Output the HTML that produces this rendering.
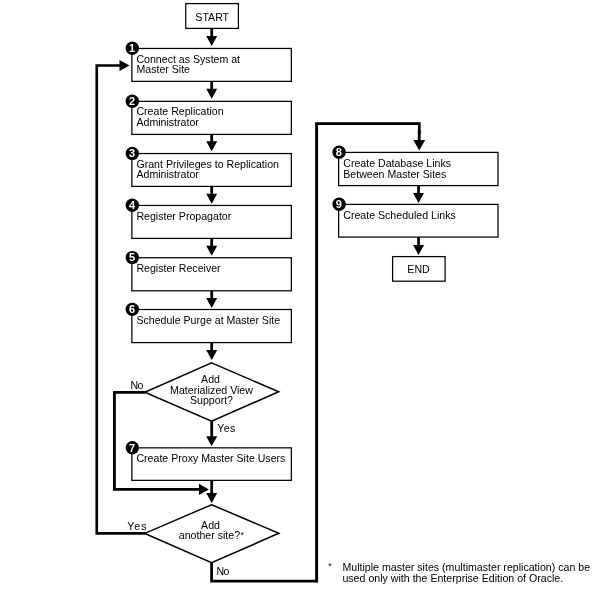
<!DOCTYPE html>
<html><head><meta charset="utf-8"><title>Flowchart</title>
<style>html,body{margin:0;padding:0;background:#fff;}body{width:600px;height:600px;overflow:hidden;font-family:"Liberation Sans",sans-serif;}svg{display:block;will-change:transform;}</style>
</head><body>
<svg width="600" height="600" viewBox="0 0 600 600">
<rect width="600" height="600" fill="#fff"/>
<g fill="none" stroke="#000" stroke-width="1.25">
<rect x="185.75" y="3.6" width="52.65" height="24.8"/>
<rect x="392.6" y="256.6" width="52.5" height="24.6"/>
<rect x="131.85" y="48.45" width="159.50" height="32.90"/>
<rect x="131.85" y="101.35" width="159.50" height="33.05"/>
<rect x="131.85" y="153.55" width="159.50" height="32.85"/>
<rect x="131.85" y="205.45" width="159.50" height="32.95"/>
<rect x="131.85" y="257.75" width="159.50" height="33.05"/>
<rect x="131.85" y="309.5" width="159.50" height="33.10"/>
<rect x="131.85" y="447.85" width="159.50" height="32.50"/>
<rect x="338.65" y="152.4" width="159.35" height="33.20"/>
<rect x="338.65" y="204.4" width="159.35" height="32.70"/>
<polygon points="211.6,362.9 278.7,391.7 211.6,421.2 144.8,392.2" stroke-width="1.5"/>
<polygon points="211.6,504.7 278.8,533.3 211.6,562.8 144.8,533.4" stroke-width="1.5"/>
</g>
<g fill="none" stroke="#000" stroke-width="2.75" stroke-linejoin="miter">
<path d="M211.7 28.4V37.1"/>
<path d="M206.20 36.10H217.20L211.7 46.1Z" fill="#000" stroke="none"/>
<path d="M211.7 81.3V89.7"/>
<path d="M206.20 88.70H217.20L211.7 98.7Z" fill="#000" stroke="none"/>
<path d="M211.7 134.4V142.3"/>
<path d="M206.20 141.30H217.20L211.7 151.3Z" fill="#000" stroke="none"/>
<path d="M211.7 186.4V194.7"/>
<path d="M206.20 193.70H217.20L211.7 203.7Z" fill="#000" stroke="none"/>
<path d="M211.7 238.4V246.7"/>
<path d="M206.20 245.70H217.20L211.7 255.7Z" fill="#000" stroke="none"/>
<path d="M211.7 290.8V298.9"/>
<path d="M206.20 297.90H217.20L211.7 307.9Z" fill="#000" stroke="none"/>
<path d="M211.7 342.6V351.0"/>
<path d="M206.20 350.00H217.20L211.7 360.0Z" fill="#000" stroke="none"/>
<path d="M211.7 421V437.2"/>
<path d="M206.20 436.20H217.20L211.7 446.2Z" fill="#000" stroke="none"/>
<path d="M211.7 480.4V494"/>
<path d="M206.20 493.00H217.20L211.7 503Z" fill="#000" stroke="none"/>
<path d="M419.2 130V141.1"/>
<path d="M413.30 140.10H425.10L419.2 150.5Z" fill="#000" stroke="none"/>
<path d="M418.55 185.6V194.0"/>
<path d="M413.05 193.00H424.05L418.55 203.0Z" fill="#000" stroke="none"/>
<path d="M418.55 237.1V246.0"/>
<path d="M413.05 245.00H424.05L418.55 255.0Z" fill="#000" stroke="none"/>
<path d="M145.5 392.3H114.4V489.4H200" stroke-width="2.85"/>
<path d="M199 483.8V495L208.8 489.4Z" fill="#000" stroke="none"/>
<path d="M145.5 533.3H96.75V65.5H120.5" stroke-width="2.65"/>
<path d="M119.5 59.9V71.1L129.5 65.5Z" fill="#000" stroke="none"/>
<path d="M211.6 562.5V581.1H316.6"/>
<path d="M316.6 582.45V123.55" stroke-width="2.95"/>
<path d="M315.15 123.55H419.3V135" stroke-width="2.7"/>
</g>
<g>
<circle cx="132.30" cy="48.30" r="6.7" fill="#000"/>
<text x="132.05" y="52.15" text-anchor="middle" font-family="Liberation Sans, sans-serif" font-weight="bold" font-size="11" fill="#fff">1</text>
<circle cx="132.30" cy="101.20" r="6.7" fill="#000"/>
<text x="132.05" y="105.05" text-anchor="middle" font-family="Liberation Sans, sans-serif" font-weight="bold" font-size="11" fill="#fff">2</text>
<circle cx="132.30" cy="153.40" r="6.7" fill="#000"/>
<text x="132.05" y="157.25" text-anchor="middle" font-family="Liberation Sans, sans-serif" font-weight="bold" font-size="11" fill="#fff">3</text>
<circle cx="132.30" cy="205.30" r="6.7" fill="#000"/>
<text x="132.05" y="209.15" text-anchor="middle" font-family="Liberation Sans, sans-serif" font-weight="bold" font-size="11" fill="#fff">4</text>
<circle cx="132.30" cy="257.60" r="6.7" fill="#000"/>
<text x="132.05" y="261.45" text-anchor="middle" font-family="Liberation Sans, sans-serif" font-weight="bold" font-size="11" fill="#fff">5</text>
<circle cx="132.30" cy="309.35" r="6.7" fill="#000"/>
<text x="132.05" y="313.20" text-anchor="middle" font-family="Liberation Sans, sans-serif" font-weight="bold" font-size="11" fill="#fff">6</text>
<circle cx="132.30" cy="447.70" r="6.7" fill="#000"/>
<text x="132.05" y="451.55" text-anchor="middle" font-family="Liberation Sans, sans-serif" font-weight="bold" font-size="11" fill="#fff">7</text>
<circle cx="339.10" cy="152.25" r="6.7" fill="#000"/>
<text x="338.85" y="156.10" text-anchor="middle" font-family="Liberation Sans, sans-serif" font-weight="bold" font-size="11" fill="#fff">8</text>
<circle cx="339.10" cy="204.25" r="6.7" fill="#000"/>
<text x="338.85" y="208.10" text-anchor="middle" font-family="Liberation Sans, sans-serif" font-weight="bold" font-size="11" fill="#fff">9</text>
</g>
<g font-family="Liberation Sans, sans-serif" font-size="10.6" fill="#000">
<text x="136.45" y="62.5">Connect as System at</text>
<text x="136.45" y="72.5">Master Site</text>
<text x="136.45" y="114.7">Create Replication</text>
<text x="136.45" y="125.5">Administrator</text>
<text x="136.45" y="167.5">Grant Privileges to Replication</text>
<text x="136.45" y="177.5">Administrator</text>
<text x="136.45" y="219.8">Register Propagator</text>
<text x="136.45" y="271.8">Register Receiver</text>
<text x="136.45" y="323.8">Schedule Purge at Master Site</text>
<text x="136.45" y="461.8">Create Proxy Master Site Users</text>
<text x="343.25" y="166.7">Create Database Links</text>
<text x="343.25" y="177.5">Between Master Sites</text>
<text x="343.25" y="218.5">Create Scheduled Links</text>
<text x="212.2" y="20.8" text-anchor="middle">START</text>
<text x="418.5" y="273" text-anchor="middle">END</text>
<text x="210.5" y="382.5" text-anchor="middle">Add</text>
<text x="211.5" y="393.6" text-anchor="middle">Materialized View</text>
<text x="211.5" y="404.3" text-anchor="middle">Support?</text>
<text x="210.5" y="528.6" text-anchor="middle">Add</text>
<text x="178.8" y="539.0">another site?</text>
<text x="242.2" y="537.9" font-size="9" text-anchor="middle">*</text>
<text x="130.6" y="388.6" textLength="12.9">No</text>
<text x="217.3" y="431.6" textLength="18">Yes</text>
<text x="127.2" y="529.7" textLength="19.3">Yes</text>
<text x="216.5" y="575.0" textLength="12.9">No</text>
<text x="330.1" y="568.7" font-size="9" text-anchor="middle">*</text>
<text x="342.4" y="570.8" textLength="247.7">Multiple master sites (multimaster replication) can be</text>
<text x="342.4" y="582.2" textLength="220.8">used only with the Enterprise Edition of Oracle.</text>
</g>
</svg>
</body></html>
